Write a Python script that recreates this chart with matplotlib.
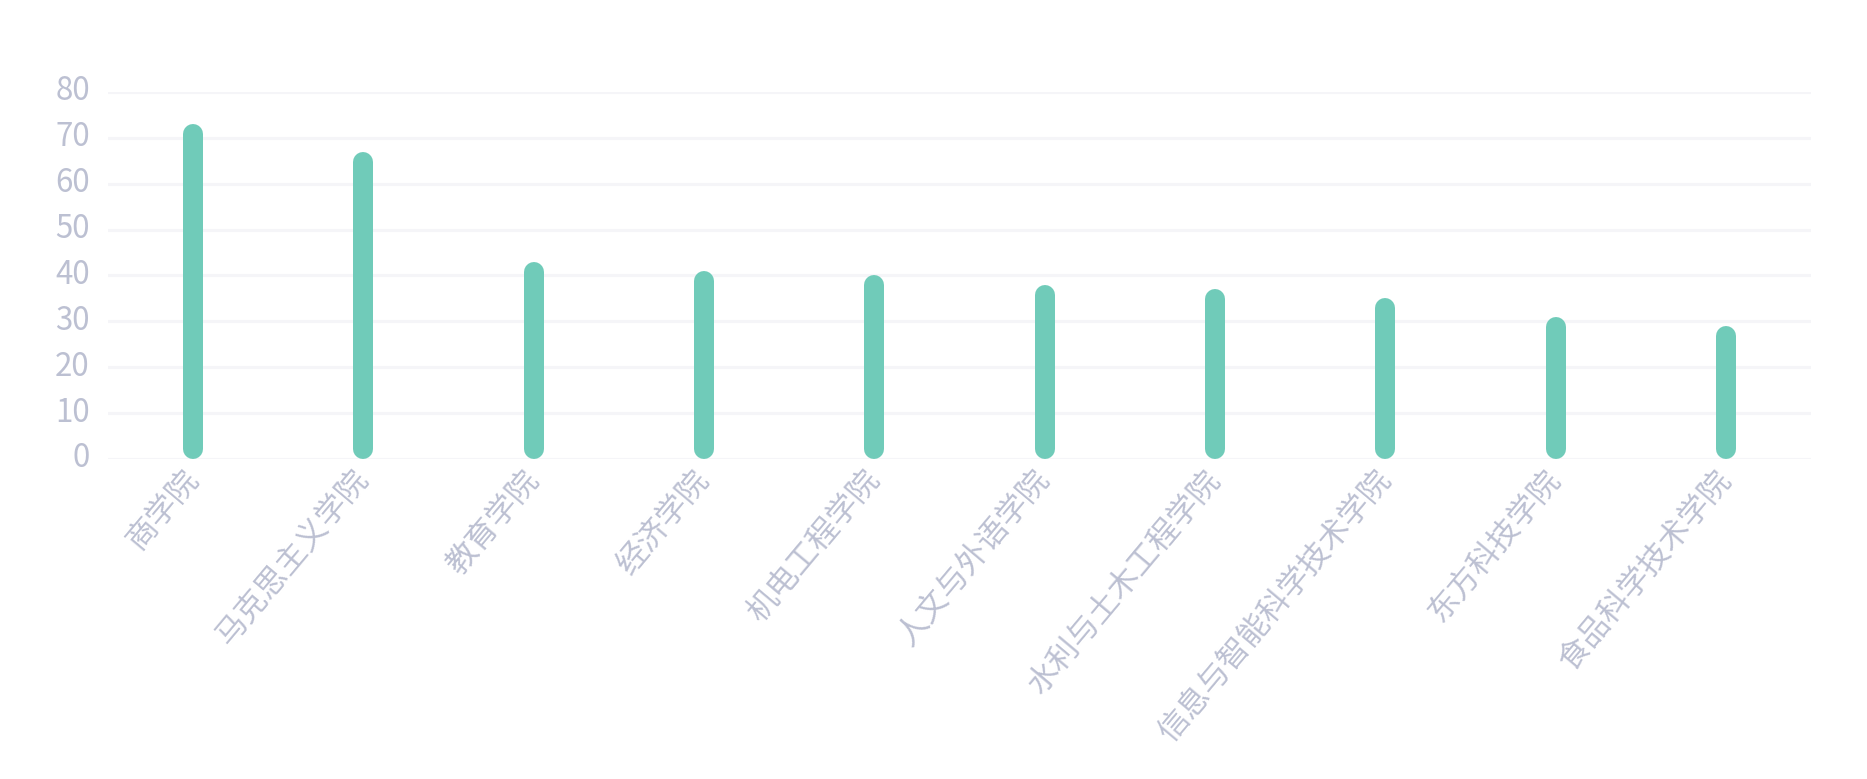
import numpy as np
import matplotlib
matplotlib.use('Agg')
import matplotlib.pyplot as plt
import matplotlib.transforms as mtransforms

plt.rcParams['font.family'] = ['Noto Sans CJK SC', 'DejaVu Sans']

# 学院名称与人数
colleges = ['商学院', '马克思主义学院', '教育学院', '经济学院', '机电工程学院',
            '人文与外语学院', '水利与土木工程学院', '信息与智能科学技术学院',
            '东方科技学院', '食品科学技术学院']
counts = [73, 67, 43, 41, 40, 38, 37, 35, 31, 29]
yticks = [0, 10, 20, 30, 40, 50, 60, 70, 80]

bar_color = '#70cbb9'
text_color = '#bcc0d2'
grid_color = '#f5f5f8'

DPI = 100
fig = plt.figure(figsize=(18.67, 7.79), dpi=DPI)
ax = fig.add_axes([0.0578, 0.4108, 0.9122, 0.4711])

x = np.arange(len(colleges))
ax.set_xlim(-0.5, len(colleges) - 0.5)
ax.set_ylim(0, 80)

# 柱子：两端圆角，用粗线加圆头画
bar_px = 20
fig.canvas.draw()
px_per_unit = ax.get_window_extent().height / 80.0
r = (bar_px / 2.0) / px_per_unit
vals = np.array(counts, dtype=float)
ax.vlines(x, r, vals - r, colors=bar_color, linewidth=bar_px * 72.0 / DPI,
          capstyle='round', zorder=3)

# 网格线
for t in yticks:
    ax.axhline(t, color=grid_color, lw=2.2, zorder=1)

for s in ax.spines.values():
    s.set_visible(False)

ax.set_yticks(yticks)
ax.set_yticklabels([str(t) for t in yticks])
ax.tick_params(axis='y', length=0, pad=13, labelsize=22.5, labelcolor=text_color)
for lab in ax.get_yticklabels():
    lab.set_fontweight('light')
    lab.set_transform(lab.get_transform() +
                      mtransforms.ScaledTranslation(0, 4 / DPI, fig.dpi_scale_trans))

ax.set_xticks(x)
ax.set_xticklabels(colleges)
ax.tick_params(axis='x', length=0, pad=11, labelsize=22.5, labelcolor=text_color)
for lab in ax.get_xticklabels():
    lab.set_rotation(50)
    lab.set_ha('right')
    lab.set_va('center')
    lab.set_rotation_mode('anchor')
    lab.set_fontweight('light')

fig.savefig('out.png', dpi=DPI)
